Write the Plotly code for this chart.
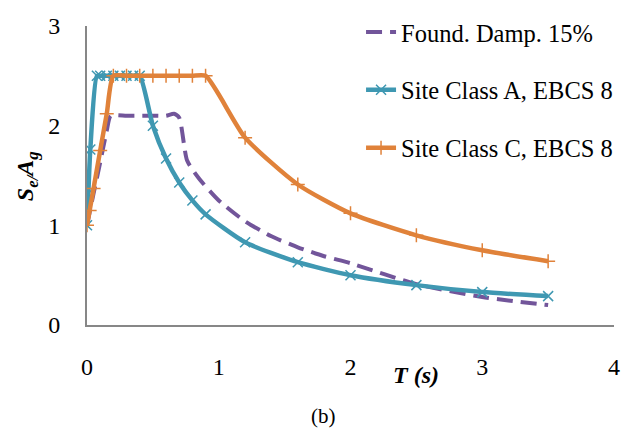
import plotly.graph_objects as go

# Period T (s) and normalised spectral ordinates Se/Ag
T_found = [0, 0.05, 0.1, 0.15, 0.18, 0.3, 0.4, 0.5, 0.6, 0.66, 0.7, 0.76, 0.85, 1.0, 1.2, 1.4, 1.6, 1.8, 2.0, 2.5, 3.0, 3.5]
S_found = [1.0, 1.32, 1.63, 1.95, 2.1, 2.1, 2.1, 2.1, 2.1, 2.12, 2.08, 1.65, 1.47, 1.25, 1.04, 0.89, 0.78, 0.69, 0.62, 0.41, 0.28, 0.2]

T_A = [0, 0.01, 0.025, 0.075, 0.1, 0.15, 0.2, 0.25, 0.3, 0.35, 0.4, 0.5, 0.6, 0.7, 0.8, 0.9, 1.2, 1.6, 2.0, 2.5, 3.0, 3.5]
S_A = [1.0, 1.32, 1.76, 2.5, 2.5, 2.5, 2.5, 2.5, 2.5, 2.5, 2.5, 2.0, 1.67, 1.43, 1.25, 1.11, 0.83, 0.63, 0.5, 0.4, 0.33, 0.29]

T_C = [0, 0.02, 0.05, 0.1, 0.15, 0.2, 0.3, 0.4, 0.5, 0.6, 0.7, 0.8, 0.9, 1.2, 1.6, 2.0, 2.5, 3.0, 3.5]
S_C = [1.0, 1.15, 1.37, 1.75, 2.12, 2.5, 2.5, 2.5, 2.5, 2.5, 2.5, 2.5, 2.5, 1.88, 1.41, 1.12, 0.9, 0.75, 0.64]

names = ["Found. Damp. 15%", "Site Class A, EBCS 8", "Site Class C, EBCS 8"]
x_ticks = [0, 1, 2, 3, 4]
y_ticks = [0, 1, 2, 3]

PURPLE = "#72559A"
BLUE = "#3F98B2"
ORANGE = "#E0823A"
FONT = "'Liberation Serif', 'Times New Roman', Tinos, 'DejaVu Serif', serif"

fig = go.Figure()
fig.add_trace(go.Scatter(
    x=T_found, y=S_found, name=names[0], mode="lines",
    line=dict(color=PURPLE, width=4, dash="16px,8px", shape="spline", smoothing=0.6),
    legendgroup="a"))
fig.add_trace(go.Scatter(
    x=T_A, y=S_A, name=names[1], mode="lines+markers",
    line=dict(color=BLUE, width=4.5, shape="spline", smoothing=0.6),
    marker=dict(symbol="x-thin", size=10, line=dict(color=BLUE, width=1.5)),
    legendgroup="b"))
fig.add_trace(go.Scatter(
    x=T_C, y=S_C, name=names[2], mode="lines+markers",
    line=dict(color=ORANGE, width=4.5, shape="spline", smoothing=0.6),
    marker=dict(symbol="cross-thin", size=10, line=dict(color=ORANGE, width=1.5)),
    legendgroup="c"))

axis_common = dict(
    showgrid=False, zeroline=False, showline=True, linecolor="#878787", linewidth=2,
    ticks="", tickfont=dict(family=FONT, size=24, color="black"),
)
fig.update_xaxes(range=[0, 4], tickvals=x_ticks, ticklabelstandoff=19, **axis_common)
fig.update_yaxes(range=[0, 3], tickvals=y_ticks, ticklabelstandoff=20, **axis_common)

fig.update_layout(
    width=630, height=432,
    margin=dict(l=87, r=10, t=17, b=107),
    plot_bgcolor="white", paper_bgcolor="white",
    font=dict(family=FONT, color="black"),
    legend=dict(x=0.52, y=1.055, xanchor="left", yanchor="top",
                font=dict(family=FONT, size=24.5, color="black"),
                tracegroupgap=23, bgcolor="rgba(0,0,0,0)"),
    annotations=[
        dict(text="<b><i>T (s)</i></b>", xref="paper", yref="paper",
             x=(420 - 87) / 533, y=-(376 - 325) / 308, xanchor="center", yanchor="middle",
             showarrow=False, font=dict(family=FONT, size=24)),
        dict(text="<b><i>S<sub>e/</sub>A<sub>g</sub></i></b>", xref="paper", yref="paper",
             x=-(87 - 27) / 533, y=(325 - 172) / 308, xanchor="center", yanchor="middle",
             textangle=-90, showarrow=False, font=dict(family=FONT, size=24)),
        dict(text="(b)", xref="paper", yref="paper",
             x=(326 - 87) / 533, y=-(419 - 325) / 308, xanchor="center", yanchor="middle",
             showarrow=False, font=dict(family=FONT, size=21)),
    ],
)

fig.write_html("out.html")
